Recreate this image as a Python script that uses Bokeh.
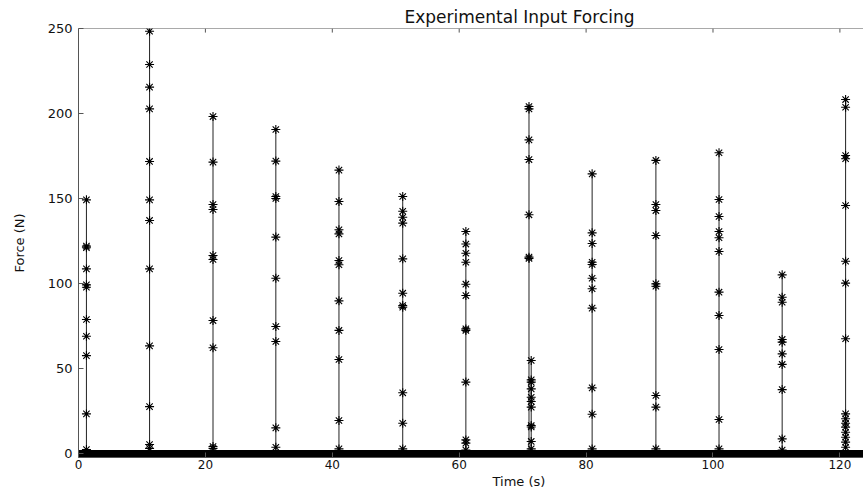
from bokeh.plotting import figure
from bokeh.models import Range1d, FixedTicker, Title, Span
from bokeh.embed import file_html
from bokeh.resources import INLINE

# ---- data ----
impulse_times = [1.25, 11.2, 21.2, 31.1, 41.05, 51.1, 61.05, 71.0, 71.35,
                 80.95, 91.0, 100.95, 110.9, 120.9]
impulse_forces = [
    [149.2, 122.0, 121.0, 108.6, 99.2, 97.8, 78.8, 69.0, 57.6, 23.3, 2.3],
    [248.4, 228.8, 215.5, 202.7, 171.8, 149.2, 137.1, 108.6, 63.3, 27.6, 5.3, 3.0],
    [198.2, 171.4, 146.5, 143.5, 116.5, 114.1, 78.2, 62.2, 4.1, 3.0],
    [190.6, 172.0, 151.2, 150.0, 127.3, 103.1, 74.7, 65.9, 15.1, 3.7],
    [166.7, 148.2, 131.6, 129.2, 113.5, 111.0, 89.8, 72.4, 55.3, 19.4, 2.7],
    [151.2, 142.5, 139.0, 135.5, 114.5, 94.3, 87.0, 86.0, 35.7, 17.8, 2.7],
    [130.6, 123.2, 117.8, 112.5, 99.6, 92.9, 73.3, 72.4, 42.0, 8.0, 6.1, 2.0],
    [204.1, 202.7, 184.5, 172.9, 140.4, 115.5, 114.7],
    [54.7, 43.3, 42.0, 38.0, 33.1, 30.6, 27.3, 16.5, 15.6, 7.1, 2.7],
    [164.5, 129.8, 123.5, 112.5, 111.2, 103.1, 96.9, 85.5, 38.6, 23.1, 2.7],
    [172.4, 146.5, 142.9, 128.2, 99.8, 98.4, 34.1, 27.3, 2.7],
    [176.9, 149.4, 139.4, 130.6, 126.9, 118.8, 94.9, 81.2, 61.2, 20.0, 2.7],
    [105.1, 91.9, 89.0, 67.1, 65.5, 58.6, 52.4, 37.6, 8.6, 2.0],
    [208.2, 203.7, 175.3, 173.4, 145.9, 113.1, 100.2, 67.5, 23.3, 20.4, 17.8,
     15.5, 12.5, 9.6, 6.7, 3.7],
]
baseline_t = [0.0, 123.72]
baseline_f = [0.0, 0.0]
x_ticks = [0, 20, 40, 60, 80, 100, 120]
y_ticks = [0, 50, 100, 150, 200, 250]
title_text = "Experimental Input Forcing"
x_label = "Time (s)"
y_label = "Force (N)"

FONT = "DejaVu Sans"
AX = "#555555"
TXT = "#111111"
Y0, Y1 = -2.35, 250.0

p = figure(width=863, height=488, output_backend="svg", toolbar_location=None,
           x_range=Range1d(0, 123.72), y_range=Range1d(Y0, Y1),
           min_border_left=78, min_border_right=0, min_border_top=28,
           min_border_bottom=31)
p.outline_line_color = None
p.xgrid.visible = False
p.ygrid.visible = False
p.background_fill_color = "white"

# stems (vertical lines)
peaks = [max(f) for f in impulse_forces]
p.segment(x0=impulse_times, y0=[0.0] * len(impulse_times), x1=impulse_times,
          y1=peaks, line_color="#222222", line_width=1)

# baseline
p.line(baseline_t, baseline_f, line_color="black", line_width=7)

# markers
xs, ys = [], []
for t, fs in zip(impulse_times, impulse_forces):
    for f in fs:
        xs.append(t)
        ys.append(f)
p.scatter(xs, ys, marker="asterisk", size=9, line_color="black",
          line_width=1.1)

# axes
for ax in (p.xaxis[0], p.yaxis[0]):
    ax.axis_line_color = AX
    ax.major_tick_line_color = AX
    ax.major_tick_in = 5
    ax.major_tick_out = 0
    ax.minor_tick_line_color = None
    ax.major_label_text_font = FONT
    ax.major_label_text_color = TXT
p.xaxis.ticker = FixedTicker(ticks=x_ticks)
p.yaxis.ticker = FixedTicker(ticks=y_ticks)
p.xaxis.major_label_text_font_size = "12px"
p.yaxis.major_label_text_font_size = "13px"
p.xaxis.major_label_standoff = 2
p.yaxis.major_label_standoff = 6

p.yaxis.axis_label = y_label
p.yaxis.axis_label_standoff = 18
p.yaxis.axis_label_text_font = FONT
p.yaxis.axis_label_text_font_size = "13px"
p.yaxis.axis_label_text_font_style = "normal"
p.yaxis.axis_label_text_color = TXT

# top frame line with inward ticks
p.add_layout(Span(location=Y1, dimension="width", line_color=AX, line_width=1))
p.segment(x0=x_ticks, y0=[Y1] * len(x_ticks), x1=x_ticks,
          y1=[Y1 - 2.4] * len(x_ticks), line_color=AX, line_width=1)

# texts
p.title.text = title_text
p.title.align = "left"
p.title.offset = 326
p.title.standoff = 4
p.title.text_font = FONT
p.title.text_font_size = "17px"
p.title.text_font_style = "normal"
p.title.text_color = TXT

p.add_layout(Title(text=x_label, align="left", offset=414, standoff=0,
                   text_font=FONT, text_font_size="13px",
                   text_font_style="normal", text_color=TXT), "below")

open("out.html", "w").write(file_html(p, INLINE))
